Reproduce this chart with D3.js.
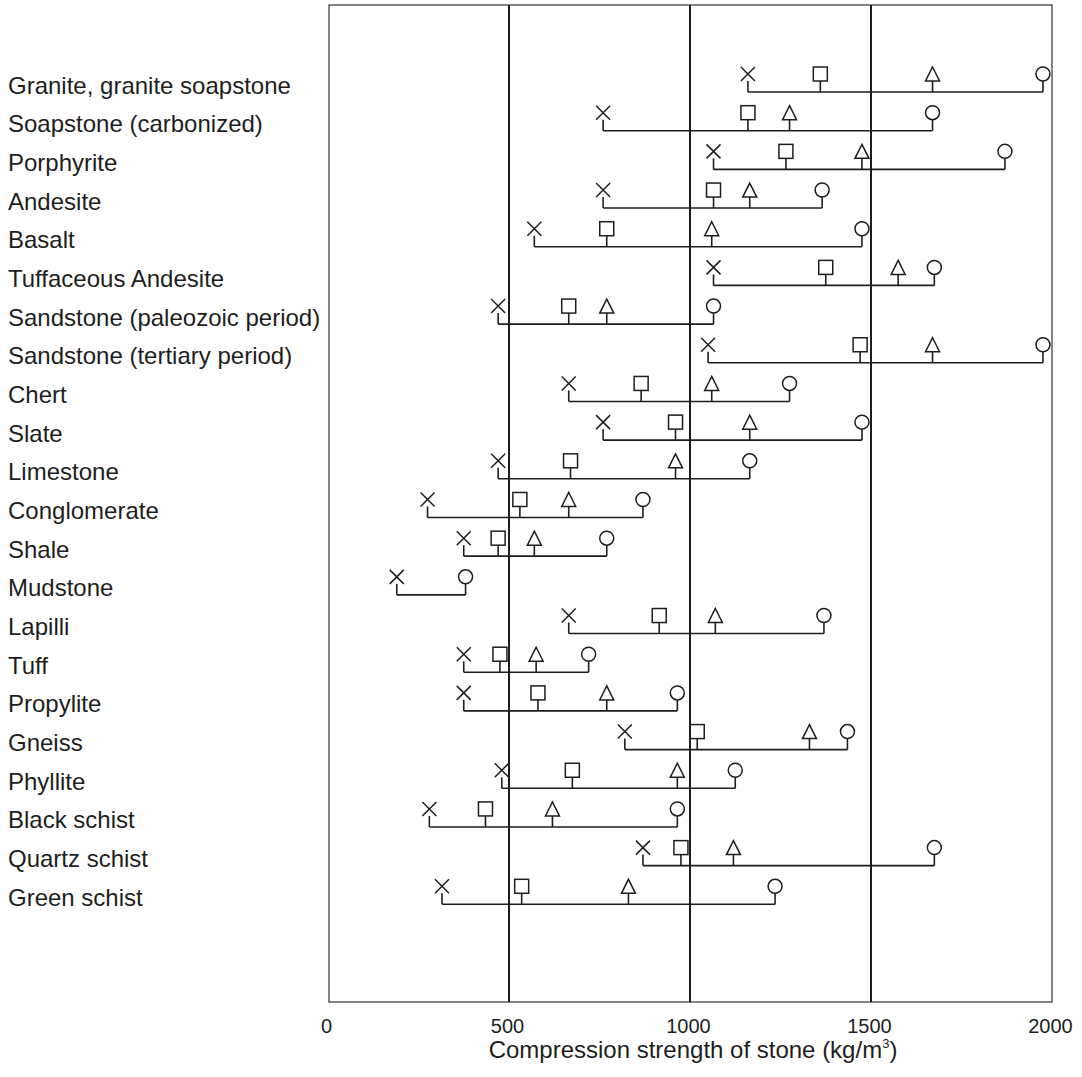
<!DOCTYPE html>
<html>
<head>
<meta charset="utf-8">
<script src="https://cdn.jsdelivr.net/npm/d3@7"></script>
<style>
  html, body { margin: 0; padding: 0; background: #fff; }
  svg { display: block; font-family: "Liberation Sans", Arial, Helvetica, sans-serif; }
</style>
</head>
<body>
<svg id="chart" width="1082" height="1077"></svg>
<script>
// Stone types, top to bottom
const categories = [
  "Granite, granite soapstone",
  "Soapstone (carbonized)",
  "Porphyrite",
  "Andesite",
  "Basalt",
  "Tuffaceous Andesite",
  "Sandstone (paleozoic period)",
  "Sandstone (tertiary period)",
  "Chert",
  "Slate",
  "Limestone",
  "Conglomerate",
  "Shale",
  "Mudstone",
  "Lapilli",
  "Tuff",
  "Propylite",
  "Gneiss",
  "Phyllite",
  "Black schist",
  "Quartz schist",
  "Green schist"
];

// Compression strength readings per stone (kg/m³)
const crossValues    = [1160, 760, 1065, 760, 570, 1065, 470, 1050, 665, 760, 470, 275, 375, 190, 665, 375, 375, 820, 480, 280, 870, 315];
const squareValues   = [1360, 1160, 1265, 1065, 770, 1375, 665, 1470, 865, 960, 670, 530, 470, null, 915, 475, 580, 1020, 675, 435, 975, 535];
const triangleValues = [1670, 1275, 1475, 1165, 1060, 1575, 770, 1670, 1060, 1165, 960, 665, 570, null, 1070, 575, 770, 1330, 965, 620, 1120, 830];
const circleValues   = [1975, 1670, 1870, 1365, 1475, 1675, 1065, 1975, 1275, 1475, 1165, 870, 770, 380, 1370, 720, 965, 1435, 1125, 965, 1675, 1235];

const tickValues = [0, 500, 1000, 1500, 2000];
const gridValues = [500, 1000, 1500];
const axisTitle = "Compression strength of stone (kg/m";
const axisTitleSup = "3";

const svg = d3.select("#chart");
const ink = "#1e1e1e";

const frame = { left: 329, right: 1052, top: 5, bottom: 1002 };

const x = d3.scaleLinear().domain([0, 2000]).range([328, 1052]);
const y = d3.scalePoint().domain(categories).range([92, 904.3]);

// plot frame
svg.append("rect")
  .attr("x", frame.left).attr("y", frame.top)
  .attr("width", frame.right - frame.left)
  .attr("height", frame.bottom - frame.top)
  .attr("fill", "none").attr("stroke", "#333").attr("stroke-width", 1.2);

// vertical reference lines
svg.append("g").selectAll("line").data(gridValues).join("line")
  .attr("x1", d => x(d)).attr("x2", d => x(d))
  .attr("y1", frame.top).attr("y2", frame.bottom)
  .attr("stroke", ink).attr("stroke-width", 2);

// bottom axis labels
const axis = d3.axisBottom(x).tickValues(tickValues).tickSize(0).tickPadding(0).tickFormat(d3.format("d"));
const axisG = svg.append("g")
  .attr("transform", `translate(-2, ${frame.bottom + 17})`)
  .call(axis);
axisG.select(".domain").remove();
axisG.selectAll("text")
  .attr("font-size", 20)
  .attr("font-family", "Liberation Sans, Arial, sans-serif")
  .attr("fill", ink);

// axis title
const title = svg.append("text")
  .attr("x", 693).attr("y", 1058)
  .attr("text-anchor", "middle")
  .attr("font-size", 24)
  .attr("fill", ink)
  .text(axisTitle);
title.append("tspan").attr("font-size", 13).attr("dy", -10).text(axisTitleSup);
title.append("tspan").attr("dy", 10).text(")");

// row labels
svg.append("g").selectAll("text").data(categories).join("text")
  .attr("x", 8)
  .attr("y", d => y(d) + 1.5)
  .attr("font-size", 24)
  .attr("fill", ink)
  .text(d => d);

// rows of markers
const rows = categories.map((c, i) => ({
  cat: c,
  cross: crossValues[i],
  square: squareValues[i],
  triangle: triangleValues[i],
  circle: circleValues[i]
}));

const stemTop = 11;   // marker bottom sits this far above the bracket line
const half = 7;       // half marker size

const rowG = svg.append("g").selectAll("g").data(rows).join("g")
  .attr("transform", d => `translate(0, ${y(d.cat)})`);

// bracket line from the lowest to the highest reading
rowG.append("line")
  .attr("x1", d => x(d.cross)).attr("x2", d => x(d.circle))
  .attr("y1", 0).attr("y2", 0)
  .attr("stroke", ink).attr("stroke-width", 1.6);

// stems
rowG.each(function(d) {
  const g = d3.select(this);
  const vals = [d.cross, d.square, d.triangle, d.circle].filter(v => v != null);
  g.selectAll("line.stem").data(vals).join("line")
    .attr("class", "stem")
    .attr("x1", v => x(v)).attr("x2", v => x(v))
    .attr("y1", -stemTop).attr("y2", 0)
    .attr("stroke", ink).attr("stroke-width", 1.6);
});

const cy = -stemTop - half;

// crosses
rowG.append("path")
  .attr("d", d => {
    const cx = x(d.cross);
    return `M${cx - half},${cy - half}L${cx + half},${cy + half}M${cx + half},${cy - half}L${cx - half},${cy + half}`;
  })
  .attr("fill", "none").attr("stroke", ink).attr("stroke-width", 1.5);

// squares
rowG.filter(d => d.square != null).append("rect")
  .attr("x", d => x(d.square) - half).attr("y", cy - half)
  .attr("width", 2 * half).attr("height", 2 * half)
  .attr("fill", "#fff").attr("stroke", ink).attr("stroke-width", 1.5);

// triangles
rowG.filter(d => d.triangle != null).append("path")
  .attr("d", d => {
    const cx = x(d.triangle);
    return `M${cx},${cy - half}L${cx + half},${cy + half}L${cx - half},${cy + half}Z`;
  })
  .attr("fill", "#fff").attr("stroke", ink).attr("stroke-width", 1.5);

// circles
rowG.append("circle")
  .attr("cx", d => x(d.circle)).attr("cy", cy)
  .attr("r", half)
  .attr("fill", "#fff").attr("stroke", ink).attr("stroke-width", 1.5);
</script>
</body>
</html>
